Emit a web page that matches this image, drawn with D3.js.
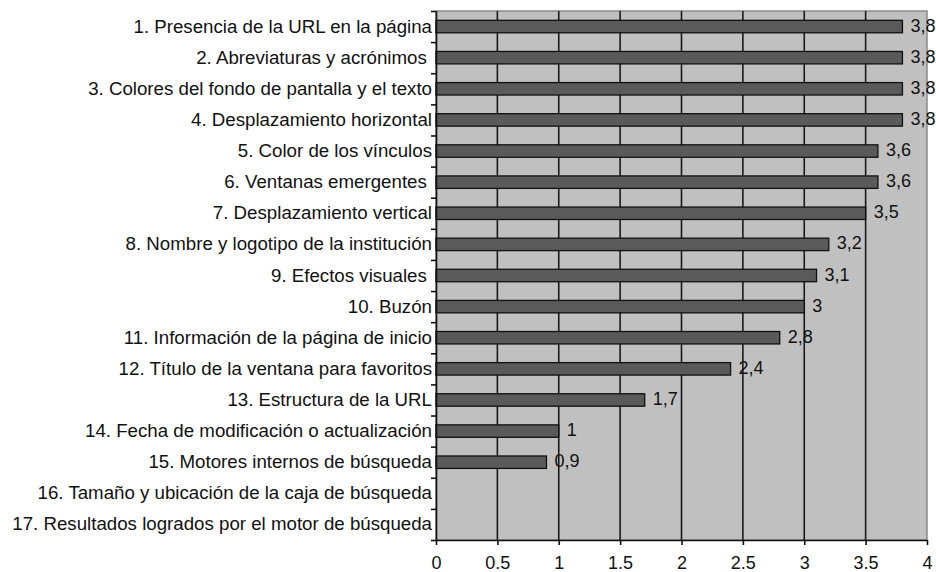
<!DOCTYPE html>
<html>
<head>
<meta charset="utf-8">
<script src="https://cdn.jsdelivr.net/npm/d3@7"></script>
<style>
  body { margin: 0; background: #fff; }
  svg { font-family: "Liberation Sans", Arial, sans-serif; }
  .cat-label { font-size: 18.7px; fill: #111; white-space: pre; }
  .val-label { font-size: 18px; fill: #111; }
  .x-axis text { font-size: 18px; fill: #111; }
</style>
</head>
<body>
<div id="vis"></div>
<script>
// Chart size and plot area
const FRAME_WIDTH = 936;
const FRAME_HEIGHT = 572;
const PLOT = {left: 436, right: 927, top: 11, bottom: 540};

// Categories (top to bottom) and their scores
const CATEGORIES = [
  "1. Presencia de la URL en la página",
  "2. Abreviaturas y acrónimos ",
  "3. Colores del fondo de pantalla y el texto",
  "4. Desplazamiento horizontal",
  "5. Color de los vínculos",
  "6. Ventanas emergentes ",
  "7. Desplazamiento vertical",
  "8. Nombre y logotipo de la institución",
  "9. Efectos visuales ",
  "10. Buzón",
  "11. Información de la página de inicio",
  "12. Título de la ventana para favoritos",
  "13. Estructura de la URL",
  "14. Fecha de modificación o actualización",
  "15. Motores internos de búsqueda",
  "16. Tamaño y ubicación de la caja de búsqueda",
  "17. Resultados logrados por el motor de búsqueda"
];
const VALUES = [3.8, 3.8, 3.8, 3.8, 3.6, 3.6, 3.5, 3.2, 3.1, 3, 2.8, 2.4, 1.7, 1, 0.9, 0, 0];
const X_TICKS = [0, 0.5, 1, 1.5, 2, 2.5, 3, 3.5, 4];

const data = CATEGORIES.map((c, i) => ({name: c, value: VALUES[i]}));

const FRAME = d3.select("#vis")
                .append("svg")
                .attr("width", FRAME_WIDTH)
                .attr("height", FRAME_HEIGHT);

// Scales
const X_SCALE = d3.scaleLinear()
                  .domain([0, 4])
                  .range([PLOT.left, PLOT.right]);

const Y_SCALE = d3.scaleBand()
                  .domain(CATEGORIES)
                  .range([PLOT.top, PLOT.bottom])
                  .paddingInner(0.6)
                  .paddingOuter(0.3);

// row boundaries for the category ticks
const ROW_SCALE = d3.scaleLinear()
                    .domain([0, CATEGORIES.length])
                    .range([PLOT.top, PLOT.bottom]);

// Plot background
FRAME.append("rect")
     .attr("x", PLOT.left)
     .attr("y", PLOT.top)
     .attr("width", PLOT.right - PLOT.left)
     .attr("height", PLOT.bottom - PLOT.top)
     .attr("fill", "#c0c0c0")
     .attr("stroke", "#8a8a8a")
     .attr("stroke-width", 1.5);

// Vertical gridlines
FRAME.selectAll(".grid")
     .data(X_TICKS.filter(d => d > 0 && d < 4))
     .enter().append("line")
     .attr("x1", d => X_SCALE(d))
     .attr("x2", d => X_SCALE(d))
     .attr("y1", PLOT.top)
     .attr("y2", PLOT.bottom)
     .attr("stroke", "#1a1a1a")
     .attr("stroke-width", 1.6);

// Bars
FRAME.selectAll(".bar")
     .data(data.filter(d => d.value > 0))
     .enter().append("rect")
     .attr("x", X_SCALE(0))
     .attr("y", d => Y_SCALE(d.name))
     .attr("width", d => X_SCALE(d.value) - X_SCALE(0))
     .attr("height", Y_SCALE.bandwidth())
     .attr("fill", "#5a5a5a")
     .attr("stroke", "#111")
     .attr("stroke-width", 1.3);

// Value labels
FRAME.selectAll(".val-label")
     .data(data.filter(d => d.value > 0))
     .enter().append("text")
     .attr("class", "val-label")
     .attr("x", d => X_SCALE(d.value) + 8)
     .attr("y", d => Y_SCALE(d.name) + Y_SCALE.bandwidth() / 2 + 5)
     .text(d => String(d.value).replace(".", ","));

// Left axis with ticks at row boundaries
const yAxis = FRAME.append("g")
     .attr("transform", "translate(" + PLOT.left + ",0)")
     .call(d3.axisLeft(ROW_SCALE)
             .tickValues(d3.range(CATEGORIES.length + 1))
             .tickFormat("")
             .tickSize(5)
             .tickSizeOuter(0));
yAxis.selectAll("line, path").attr("stroke", "#111").attr("stroke-width", 1.6);

// Category labels
FRAME.selectAll(".cat-label")
     .data(data)
     .enter().append("text")
     .attr("class", "cat-label")
     .attr("x", 432)
     .attr("y", d => Y_SCALE(d.name) + Y_SCALE.bandwidth() / 2 + 6)
     .attr("text-anchor", "end")
     .text(d => d.name);

// Bottom axis
const xAxis = FRAME.append("g")
     .attr("class", "x-axis")
     .attr("transform", "translate(0," + PLOT.bottom + ")")
     .call(d3.axisBottom(X_SCALE)
             .tickValues(X_TICKS)
             .tickFormat(d => d)
             .tickSize(5)
             .tickSizeOuter(0)
             .tickPadding(11));
xAxis.selectAll("line, path").attr("stroke", "#111").attr("stroke-width", 1.6);
xAxis.selectAll("text").attr("font-family", null).attr("font-size", null);
</script>
</body>
</html>
